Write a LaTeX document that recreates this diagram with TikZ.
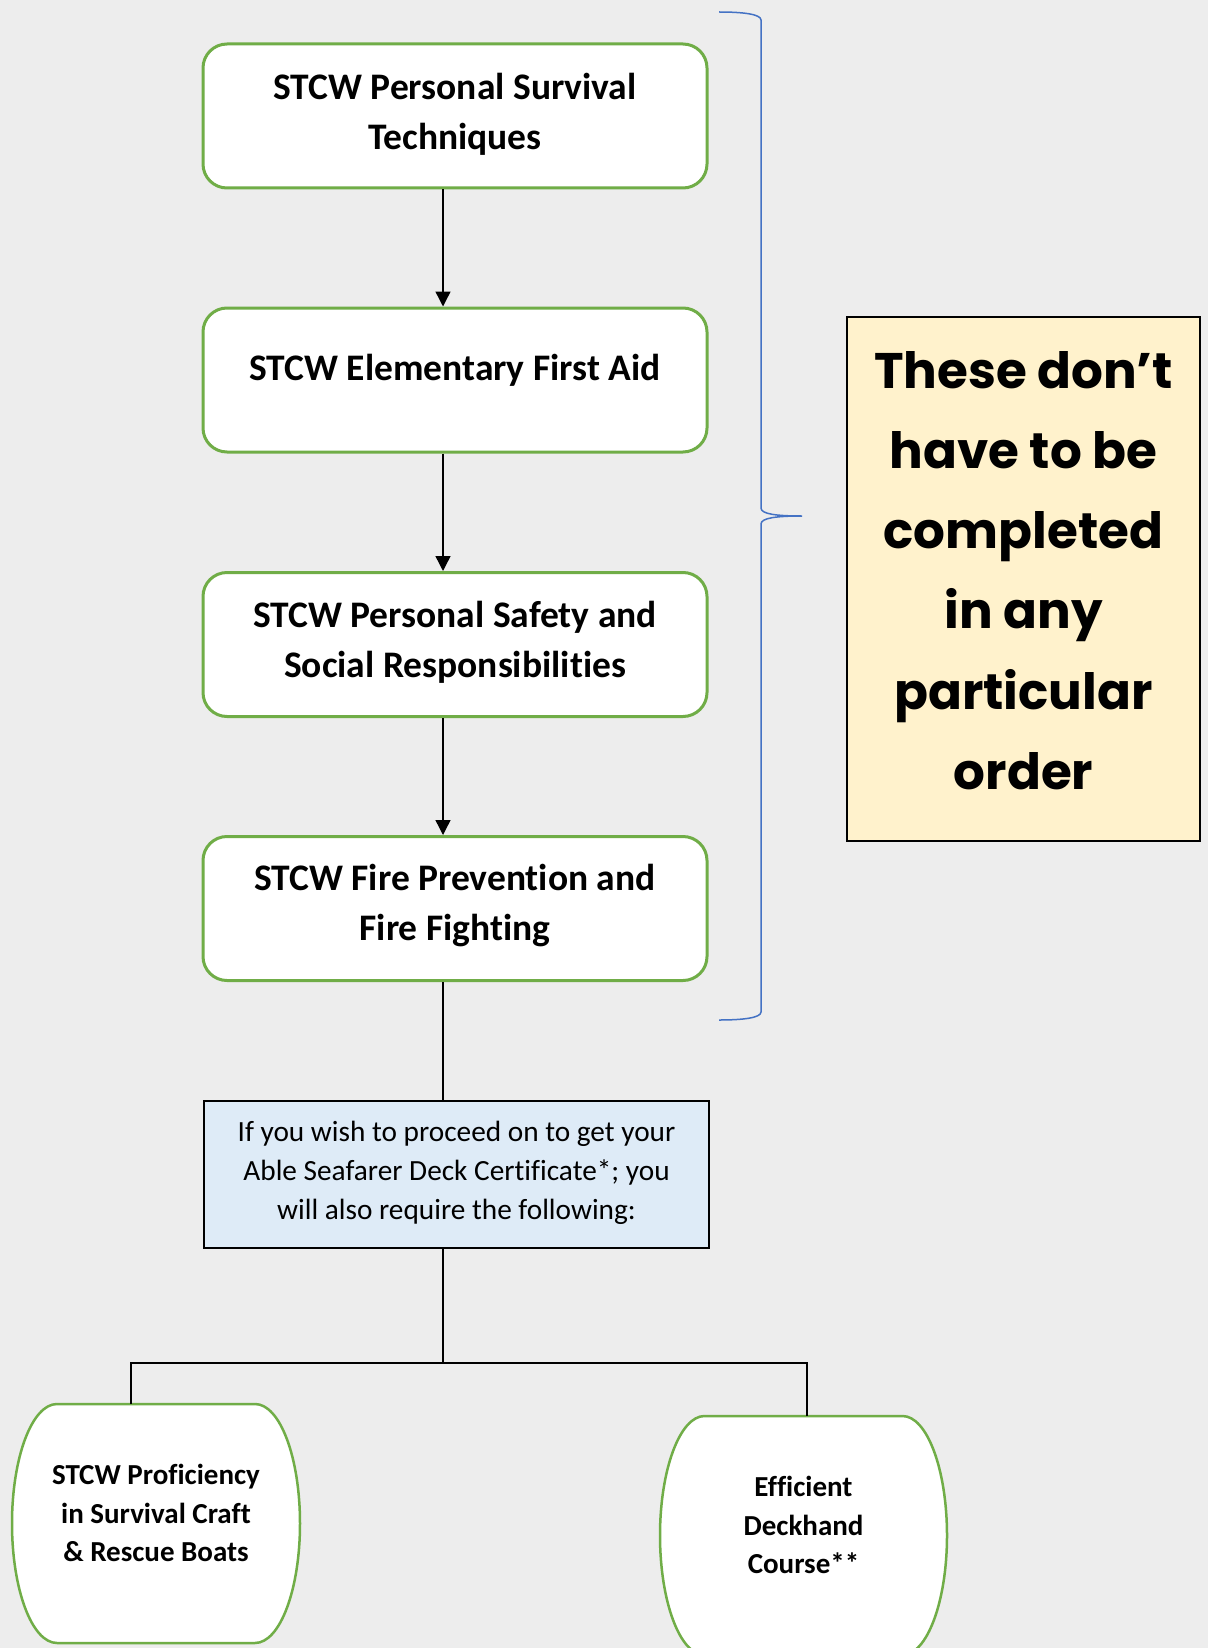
\documentclass[tikz,border=0pt]{standalone}
\usepackage{fontspec}
\setmainfont{Carlito}[Ligatures=NoCommon]
\newfontfamily\notefont{Poppins}
\usetikzlibrary{arrows.meta}
\definecolor{bg}{HTML}{EDEDED}
\definecolor{grn}{HTML}{70AD47}
\definecolor{brc}{HTML}{4472C4}
\definecolor{lblue}{HTML}{DEEBF7}
\definecolor{lyel}{HTML}{FFF2CC}
\begin{document}
\begin{tikzpicture}[x=1pt,y=-1pt,
  stepbox/.style={draw=grn, line width=3pt, fill=white, rounded corners=24pt,
    minimum width=504pt, minimum height=144pt, inner sep=0pt},
  steptext/.style={font=\fontsize{37.5}{50}\selectfont\bfseries, align=center, inner sep=0pt},
  smalltext/.style={font=\fontsize{29}{38.5}\selectfont\bfseries, align=center, inner sep=0pt},
  qbox/.style={draw=black, line width=2pt, fill=lblue, minimum width=505pt, minimum height=147pt, inner sep=0pt},
  qtext/.style={font=\fontsize{29.3}{39}\selectfont, align=center, inner sep=0pt},
  barrel/.style={draw=grn, line width=2.5pt, fill=white},
  shapebox/.style={minimum width=288pt, minimum height=239pt, inner sep=0pt},
  conn/.style={draw=black, line width=1.4pt},
  arr/.style={conn, -{Triangle[length=15pt,width=15pt]}},
  notebox/.style={draw=black, line width=1.6pt, fill=lyel, minimum width=353pt, minimum height=524pt, inner sep=0pt},
  notetext/.style={font=\notefont\bfseries\fontsize{50}{80.3}\selectfont, align=center, inner sep=0pt},
  bracket/.style={draw=brc, line width=1.5pt}
]
\path[use as bounding box, fill=bg] (0,0) rectangle (1208,1648);
\clip (0,0) rectangle (1208,1648);

% main steps
\node[stepbox] (b1) at (455,116) {};
\node[stepbox] (b2) at (455,380) {};
\node[stepbox] (b3) at (455,644.5) {};
\node[stepbox] (b4) at (455,908.5) {};
\node[steptext] (t1) at (455,114) {STCW Personal Survival\\Techniques};
\node[steptext] (t2) at (455,370.5) {STCW Elementary First Aid};
\node[steptext] (t3) at (455,642) {STCW Personal Safety and\\Social Responsibilities};
\node[steptext] (t4) at (455,906) {STCW Fire Prevention and\\Fire Fighting};

% question box
\node[qbox] (q) at (456.5,1174.5) {};
\node[qtext] (qt) at (456.5,1173) {If you wish to proceed on to get your\\Able Seafarer Deck Certificate*; you\\will also require the following:};

% bottom shapes
\node[shapebox] (L) at (156,1523.5) {};
\node[shapebox] (R) at (803.5,1535.5) {};
\draw[barrel] (57,1404) -- (255,1404)
  .. controls (280,1404) and (300,1457.5) .. (300,1523.5)
  .. controls (300,1589.5) and (280,1643) .. (255,1643)
  -- (57,1643)
  .. controls (32,1643) and (12,1589.5) .. (12,1523.5)
  .. controls (12,1457.5) and (32,1404) .. (57,1404) -- cycle;
\draw[barrel] (704.5,1416) -- (902.5,1416)
  .. controls (927,1416) and (947,1469.5) .. (947,1535.5)
  .. controls (947,1601.5) and (927,1655) .. (902.5,1655)
  -- (704.5,1655)
  .. controls (680,1655) and (660,1601.5) .. (660,1535.5)
  .. controls (660,1469.5) and (680,1416) .. (704.5,1416) -- cycle;
\node[smalltext] (Lt) at (156,1513) {STCW Proficiency\\in Survival Craft\\\& Rescue Boats};
\node[smalltext] (Rt) at (803.5,1525) {Efficient\\Deckhand\\Course**};

% connectors
\coordinate (sp) at (443,0);
\coordinate (lx) at (131,0);
\coordinate (rx) at (807,0);
\coordinate (j) at (443,1363);
\draw[arr] (b1.south -| sp) -- (b2.north -| sp);
\draw[arr] (b2.south -| sp) -- (b3.north -| sp);
\draw[arr] (b3.south -| sp) -- (b4.north -| sp);
\draw[conn] (b4.south -| sp) -- (q.north -| sp);
\draw[conn] (q.south -| sp) -- (j);
\draw[conn] (j) -| (L.north -| lx);
\draw[conn] (j) -| (R.north -| rx);

% bracket
\draw[bracket] (719,12) .. controls (742,12) and (761,14) .. (761,20)
  -- (761,508) .. controls (761,514) and (776,516) .. (802,516)
  .. controls (776,516) and (761,518) .. (761,524)
  -- (761,1012) .. controls (761,1018) and (742,1020) .. (719,1020);

% note
\node[notebox] (n) at (1023.5,579) {};
\node[notetext] (nt) at (1023.5,570.5) {These don’t\\have to be\\completed\\in any\\particular\\order};
\end{tikzpicture}
\end{document}
